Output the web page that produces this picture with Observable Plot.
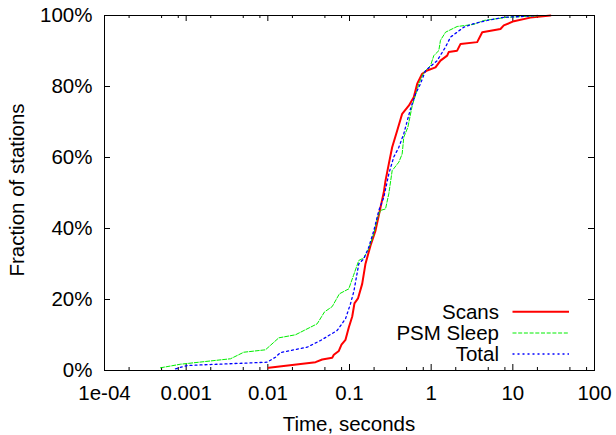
<!DOCTYPE html>
<html>
<head>
<meta charset="utf-8">
<script src="https://cdn.jsdelivr.net/npm/d3@7"></script>
<script src="https://cdn.jsdelivr.net/npm/@observablehq/plot@0.6"></script>
<style>
  html, body { margin: 0; padding: 0; background: #fff; }
  svg { display: block; }
</style>
</head>
<body>
<div id="chart"></div>
<script>
// ---- Data (time in seconds, cumulative fraction in %) ----
const seriesNames = ["Scans", "PSM Sleep", "Total"];

const scansTime = [0.01028, 0.0384, 0.0463, 0.0614, 0.0643, 0.074, 0.0798, 0.0893, 0.098, 0.108, 0.115, 0.127, 0.143, 0.157, 0.181, 0.208, 0.240, 0.263, 0.276, 0.303, 0.333, 0.384, 0.4415, 0.532, 0.612, 0.675, 0.776, 0.893, 1.13, 1.30, 1.57, 1.64, 2.08, 2.29, 3.66, 4.22, 7.06, 7.75, 10.3, 16.4, 28.9];
const scansFrac = [0.76, 2.34, 3.1, 3.58, 4.42, 5.5, 7.3, 8.65, 12.1, 15.2, 18.9, 20.3, 24.4, 30.1, 35.2, 39.4, 46.0, 50.2, 53.5, 58.2, 62.9, 67.6, 72.3, 74.6, 77.0, 80.8, 83.6, 84.5, 85.4, 87.3, 88.7, 89.7, 90.1, 92.0, 92.5, 95.3, 96.2, 97.2, 98.4, 99.4, 100];

const psmTime = [0.000485, 0.000853, 0.00349, 0.00508, 0.00936, 0.01362, 0.0218, 0.0402, 0.0494, 0.0614, 0.0752, 0.098, 0.112, 0.130, 0.1496, 0.172, 0.1985, 0.218, 0.2398, 0.276, 0.303, 0.333, 0.402, 0.4415, 0.462, 0.518, 0.586, 0.661, 0.706, 0.813, 0.982, 1.077, 1.24, 1.30, 1.50, 2.08, 3.33, 4.41, 8.53, 16.4, 23.7];
const psmFrac = [0.76, 1.77, 3.3, 5.15, 5.83, 9.2, 10.06, 13.15, 16.5, 18.0, 21.6, 23.0, 26.8, 31.0, 31.7, 34.3, 38.5, 42.7, 45.1, 45.5, 49.8, 56.3, 58.7, 61.0, 65.7, 68.5, 74.6, 78.4, 80.8, 84.0, 85.9, 88.7, 90.1, 93.0, 95.3, 96.9, 97.5, 98.6, 99.5, 99.8, 100];

const totalTime = [0.00074, 0.00103, 0.00982, 0.0124, 0.0143, 0.0303, 0.0442, 0.0706, 0.0893, 0.1028, 0.113, 0.130, 0.1496, 0.172, 0.1985, 0.2286, 0.263, 0.303, 0.348, 0.402, 0.462, 0.558, 0.643, 0.740, 0.853, 1.186, 1.497, 1.725, 2.08, 2.51, 3.33, 4.85, 7.75, 12.4, 19.9];
const totalFrac = [0.48, 1.41, 2.34, 3.75, 5.07, 6.56, 8.45, 11.27, 14.56, 18.8, 22.25, 30.06, 31.46, 34.7, 39.4, 45.1, 48.8, 55.4, 60.1, 62.9, 66.7, 73.7, 77.9, 80.8, 84.5, 87.3, 91.1, 93.9, 95.3, 96.7, 97.7, 98.6, 99.5, 99.7, 100];

// ---- Tick labels ----
const xTicks = [1e-4, 1e-3, 1e-2, 1e-1, 1, 10, 100];
const xTickLabels = ["1e-04", "0.001", "0.01", "0.1", "1", "10", "100"];
const yTicks = [0, 20, 40, 60, 80, 100];
const yTickLabels = ["0%", "20%", "40%", "60%", "80%", "100%"];
const xMinorMultipliers = [2, 5, 8];

const xTitle = "Time, seconds";
const yTitle = "Fraction of stations";

// ---- Styles ----
const colors = {"Scans": "#ff0000", "PSM Sleep": "#00ee00", "Total": "#0000ff"};
const widths = {"Scans": 2, "PSM Sleep": 1, "Total": 1.3};
const dashes = {"Scans": null, "PSM Sleep": "4,1.7", "Total": "2,3"};

// ---- Build rows ----
function rowsOf(name, ts, fs) { return ts.map((t, i) => ({series: name, t, f: fs[i]})); }
const seriesRows = {
  "Scans": rowsOf("Scans", scansTime, scansFrac),
  "PSM Sleep": rowsOf("PSM Sleep", psmTime, psmFrac),
  "Total": rowsOf("Total", totalTime, totalFrac)
};

const xMinor = [];
for (let k = 0; k < xTicks.length - 1; k++) for (const m of xMinorMultipliers) xMinor.push(xTicks[k] * m);

const W = 616, H = 435;
const mL = 104, mR = 22, mT = 15, mB = 65;
const fw = W - mL - mR, fh = H - mT - mB;
const major = 6, minor = 3;

const chart = Plot.plot({
  width: W, height: H,
  marginLeft: mL, marginRight: mR, marginTop: mT, marginBottom: mB,
  style: {fontFamily: "'Liberation Sans', Arial, Helvetica, sans-serif", fontSize: "20.5px", color: "#000", background: "#fff"},
  x: {type: "log", domain: [1e-4, 100]},
  y: {domain: [0, 100]},
  marks: [
    // tick marks, inward, on all four sides
    Plot.ruleX(xTicks, {insetTop: fh - major, stroke: "#000"}),
    Plot.ruleX(xTicks, {insetBottom: fh - major, stroke: "#000"}),
    Plot.ruleX(xMinor, {insetTop: fh - minor, stroke: "#000"}),
    Plot.ruleX(xMinor, {insetBottom: fh - minor, stroke: "#000"}),
    Plot.ruleY(yTicks.slice(1, -1), {insetRight: fw - major, stroke: "#000"}),
    Plot.ruleY(yTicks.slice(1, -1), {insetLeft: fw - major, stroke: "#000"}),
    Plot.axisX({ticks: xTicks, tickSize: 0, tickPadding: 15, tickFormat: d => xTickLabels[xTicks.indexOf(d)], label: null}),
    Plot.axisY({ticks: yTicks, tickSize: 0, tickPadding: 12, tickFormat: d => yTickLabels[yTicks.indexOf(d)], label: null}),
    ...seriesNames.map(name => Plot.line(seriesRows[name], {
      x: "t", y: "f",
      stroke: colors[name], strokeWidth: widths[name],
      strokeDasharray: dashes[name] || undefined,
      curve: "linear"
    })),
    Plot.frame({stroke: "#000", strokeWidth: 1})
  ]
});

const svg = d3.select(chart);
// Axis titles
svg.append("text")
  .attr("x", mL + fw / 2).attr("y", 424).attr("dy", "0.35em")
  .attr("text-anchor", "middle").attr("fill", "#000")
  .text(xTitle);
svg.append("text")
  .attr("transform", "translate(17,190) rotate(-90)")
  .attr("dy", "0.35em")
  .attr("text-anchor", "middle").attr("fill", "#000")
  .text(yTitle);

// Legend (bottom right, inside plot)
const legendY = [311.7, 333, 354];
seriesNames.forEach((name, i) => {
  svg.append("text")
    .attr("x", 499).attr("y", legendY[i]).attr("dy", "0.35em")
    .attr("text-anchor", "end").attr("fill", "#000")
    .text(name);
  svg.append("line")
    .attr("x1", 512.5).attr("x2", 569).attr("y1", legendY[i]).attr("y2", legendY[i])
    .attr("stroke", colors[name]).attr("stroke-width", widths[name])
    .attr("stroke-dasharray", dashes[name]);
});

document.getElementById("chart").appendChild(chart);
</script>
</body>
</html>
